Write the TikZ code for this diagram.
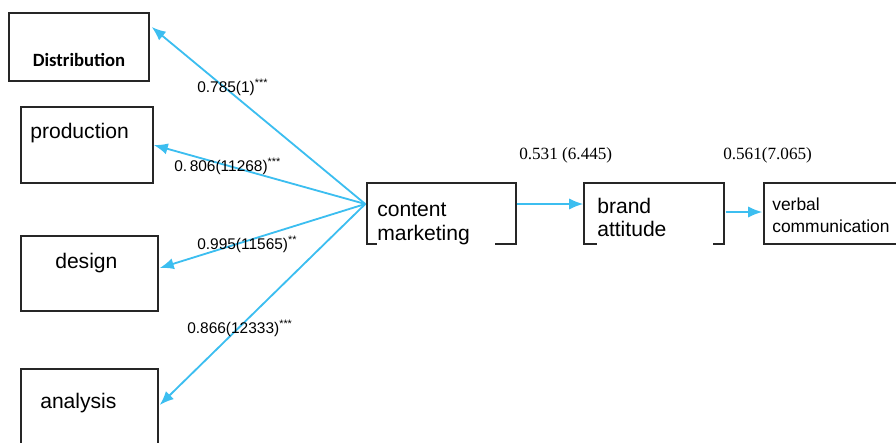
\documentclass[tikz,border=0pt]{standalone}
\usepackage{fontspec}
\setmainfont{Liberation Sans}
\newfontfamily\numserif{Liberation Serif}
\newfontfamily\calibfont{Carlito}
\usetikzlibrary{arrows.meta,calc}

\definecolor{linkblue}{RGB}{60,190,240}

\tikzset{
	box/.style={draw=black!85,line width=1pt,inner sep=0pt},
	txt/.style={inner sep=0pt,font=\fontsize{15}{15.5}\selectfont},
	coef/.style={inner sep=0pt,font=\fontsize{11}{13}\selectfont},
	link/.style={draw=linkblue,line width=1.3pt,-{Latex[length=10pt,width=8pt]}}
}

\begin{document}
\begin{tikzpicture}[x=0.025cm,y=-0.025cm]
	\useasboundingbox (0,0) rectangle (896,442);
	% boxes
	\node[box,minimum width=3.5cm,minimum height=1.7cm] (dist) at (79,47) {};
	\node[box,minimum width=3.3cm,minimum height=1.9cm] (prod) at (87,145) {};
	\node[box,minimum width=3.425cm,minimum height=1.875cm] (des) at (89.5,273.5) {};
	\node[box,minimum width=3.425cm,minimum height=2.275cm] (ana) at (89.5,414.5) {};
	\node[box,minimum width=3.725cm,minimum height=1.525cm] (cm) at (441.5,213.5) {};
	\node[box,minimum width=3.5cm,minimum height=1.525cm] (brand) at (654,213.5) {};
	\node[box,minimum width=3.65cm,minimum height=1.525cm] (verb) at (837,213.5) {};
	% texts
	\node[inner sep=0pt,anchor=base,font=\calibfont\bfseries\fontsize{13.3}{16}\selectfont] (distT) at (79,66) {Distribution};
	\node[txt,anchor=base west] (prodT) at (30,138) {production};
	\node[txt,anchor=base west] (desT) at (55,268) {design};
	\node[txt,anchor=base west] (anaT) at (40,408) {analysis};
	\node[txt,anchor=base west,align=left,text width=2.95cm,fill=white,inner ysep=2pt,font=\fontsize{15}{17.5}\selectfont] (cmT) at (377,216) {content\\marketing};
	\node[txt,anchor=base west,align=left,text width=2.9cm,fill=white,inner ysep=6pt,font=\fontsize{15}{17}\selectfont] (brandT) at (597,213) {brand\\attitude};
	\node[inner sep=0pt,anchor=base west,align=left,font=\fontsize{12.4}{15.6}\selectfont] (verbT) at (772,232) {verbal\\communication};
	% arrows
	\coordinate (src) at ($(cm.west)+(-1,-9.5)$);
	\draw[link] (src) -- ($(dist.east)+(2,-20)$);
	\draw[link] (src) -- (prod.east);
	\draw[link] (src) -- ($(des.east)+(1,-5.5)$);
	\draw[link] (src) -- ($(ana.east)+(1,-9.5)$);
	\draw[link] ($(cm.east)+(0,-9.5)$) -- ($(brand.west)+(0,-9.5)$);
	\draw[link] ($(brand.east)+(1,-1.5)$) -- ($(verb.west)+(-1,-1.5)$);
	% coefficients
	\node[coef,anchor=base west] (c1) at (197,92) {0.785(1)\textsuperscript{***}};
	\node[coef,anchor=base west] (c2) at (174,171) {0.\,806(11268)\textsuperscript{***}};
	\node[coef,anchor=base west] (c3) at (197,249) {0.995(11565)\textsuperscript{**}};
	\node[coef,anchor=base west] (c4) at (187,333) {0.866(12333)\textsuperscript{***}};
	\node[inner sep=0pt,anchor=base west,font=\numserif\fontsize{12.2}{14}\selectfont] (c5) at (519,159) {0.531 (6.445)};
	\node[inner sep=0pt,anchor=base west,font=\numserif\fontsize{12.2}{14}\selectfont] (c6) at (723,159) {0.561(7.065)};
\end{tikzpicture}
\end{document}
